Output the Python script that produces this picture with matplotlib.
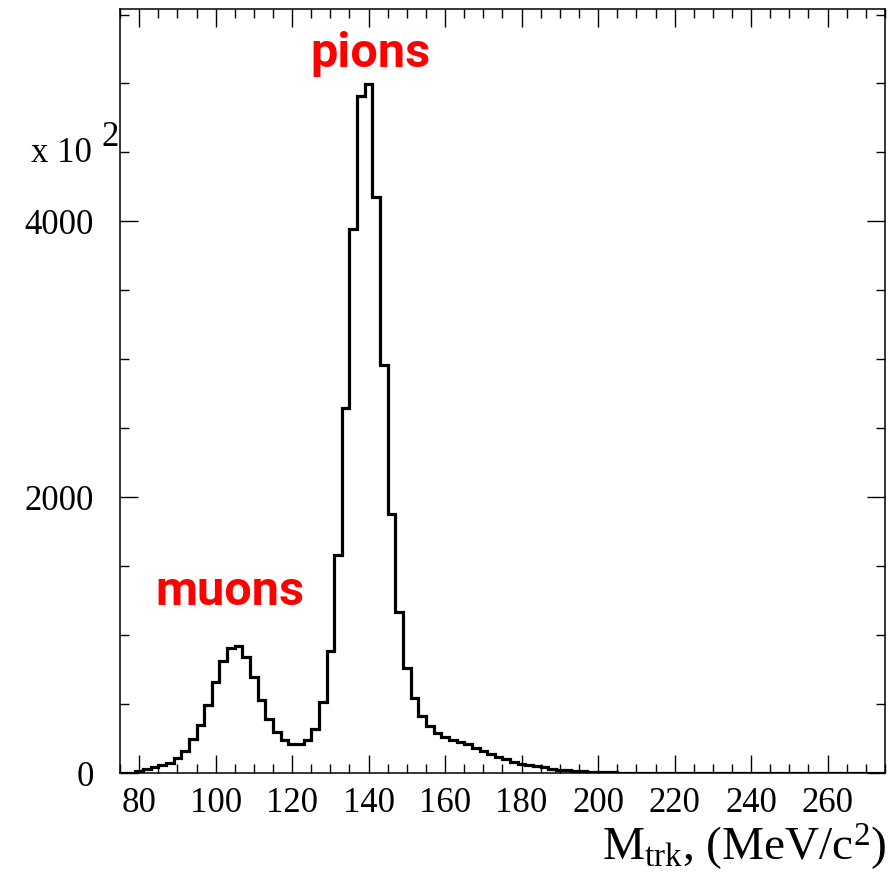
import numpy as np
import matplotlib
matplotlib.use("Agg")
import matplotlib.pyplot as plt
from matplotlib.ticker import MultipleLocator

plt.rcParams['font.family'] = ['Liberation Serif', 'DejaVu Serif']
plt.rcParams['mathtext.fontset'] = 'custom'
plt.rcParams['mathtext.rm'] = 'Liberation Serif'
plt.rcParams['mathtext.it'] = 'Liberation Serif:italic'

# track mass histogram, 2 MeV bins from 75 to 275 MeV/c^2
bin_lo = 75
bin_hi = 275
bin_w = 2
counts = [
    0, 4, 15, 30, 45, 60, 78, 110, 165, 250,
    350, 495, 665, 815, 905, 922, 840, 700, 531, 393,
    302, 241, 210, 210, 241, 321, 514, 889, 1580, 2645,
    3942, 4913, 4993, 4178, 2959, 1879, 1171, 761, 543, 415,
    345, 290, 261, 241, 229, 210, 186, 164, 140, 120,
    101, 84, 70, 60, 51, 43, 33, 27, 22, 18,
    14, 11, 9, 7, 6, 5, 4, 3, 3, 2,
    2, 1, 1, 1, 1, 0, 0, 0, 0, 0,
    0, 0, 0, 0, 0, 0, 0, 0, 0, 0,
    0, 0, 0, 0, 0, 0, 0, 0, 0, 0,
]
edges = np.arange(bin_lo, bin_hi + bin_w, bin_w)

x_ticks = [80, 100, 120, 140, 160, 180, 200, 220, 240, 260]
y_ticks = [0, 2000, 4000]

fig = plt.figure(figsize=(8.95, 8.73), dpi=100)
ax = fig.add_axes([120/895, 1 - 773.3/873, 765/895, 764.3/873])

ax.stairs(counts, edges, color='black', linewidth=2.3)

ax.set_xlim(bin_lo, bin_hi)
ax.set_ylim(0, 5540)
ax.set_xticks(x_ticks)
ax.set_yticks(y_ticks)
ax.xaxis.set_minor_locator(MultipleLocator(5))
ax.yaxis.set_minor_locator(MultipleLocator(500))
ax.tick_params(which='both', direction='in', top=True, right=True, width=1.0)
ax.tick_params(which='major', length=13, labelsize=25)
ax.tick_params(axis='x', which='major', pad=10)
ax.tick_params(axis='y', which='major', pad=19)
ax.tick_params(which='minor', length=6.5)
for s in ax.spines.values():
    s.set_linewidth(1.1)

# exponent of the y scale
fig.text(92/895, 1 - 162/873, 'x 10', ha='right', va='baseline', fontsize=25)
fig.text(102/895, 1 - 146/873, '2', ha='left', va='baseline', fontsize=25)

fig.text(886/895, 1 - 860/873, r'M$_{\mathrm{trk}}$, (MeV/c$^{2}$)',
         ha='right', va='baseline', fontsize=34)

red_style = dict(color='red', fontsize=35, fontweight='bold', family='Roboto',
                 ha='center', va='baseline')
ax.text(140.5, 5118, 'pions', **red_style)
ax.text(103.7, 1220, 'muons', **red_style)

fig.savefig('out.png', dpi=100)
